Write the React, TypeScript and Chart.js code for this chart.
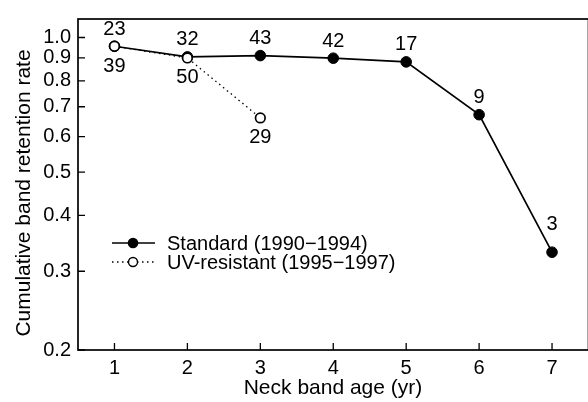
import { useEffect, useRef } from "react";
import { Chart, registerables } from "chart.js";

Chart.register(...registerables);

const ages = [1, 2, 3, 4, 5, 6, 7];
const standardRates = [0.956, 0.905, 0.911, 0.899, 0.882, 0.672, 0.331];
const standardCounts = ["23", "32", "43", "42", "17", "9", "3"];
const uvAges = [1, 2, 3];
const uvRates = [0.956, 0.9, 0.661];
const uvCounts = ["39", "50", "29"];
const yTicks = [0.2, 0.3, 0.4, 0.5, 0.6, 0.7, 0.8, 0.9, 1.0];
const yTickLabels = ["0.2", "0.3", "0.4", "0.5", "0.6", "0.7", "0.8", "0.9", "1.0"];
const xTicks = [1, 2, 3, 4, 5, 6, 7];
const seriesNames = ["Standard (1990\u22121994)", "UV-resistant (1995\u22121997)"];
const xTitle = "Neck band age (yr)";
const yTitle = "Cumulative band retention rate";

const FONT = '"Liberation Sans", Arial, Helvetica, sans-serif';

const decor = {
  id: "decor",
  afterDatasetsDraw(chart: any) {
    const ctx = chart.ctx;
    const xs = chart.scales.x;
    const ys = chart.scales.y;
    ctx.save();
    ctx.fillStyle = "#000";
    ctx.font = `20px ${FONT}`;
    ctx.textAlign = "center";
    ctx.textBaseline = "middle";
    standardCounts.forEach((t, i) => {
      const px = xs.getPixelForValue(ages[i]);
      const py = ys.getPixelForValue(standardRates[i]);
      const off = i === standardCounts.length - 1 ? 28 : 17;
      ctx.fillText(t, px, py - off);
    });
    uvCounts.forEach((t, i) => {
      const px = xs.getPixelForValue(uvAges[i]);
      const py = ys.getPixelForValue(uvRates[i]);
      ctx.fillText(t, px, py + 20);
    });
    ctx.restore();
  },
  afterDraw(chart: any) {
    const ctx = chart.ctx;
    const a = chart.chartArea;
    const xs = chart.scales.x;
    const ys = chart.scales.y;
    ctx.save();
    ctx.strokeStyle = "#000";
    ctx.lineWidth = 1.7;
    ctx.strokeRect(a.left, a.top, a.right - a.left, a.bottom - a.top);
    ctx.lineWidth = 1.3;
    ctx.beginPath();
    xTicks.forEach((v) => {
      const px = xs.getPixelForValue(v);
      ctx.moveTo(px, a.bottom);
      ctx.lineTo(px, a.bottom - 7);
    });
    yTicks.forEach((v) => {
      const py = ys.getPixelForValue(v);
      ctx.moveTo(a.left, py);
      ctx.lineTo(a.left + 7, py);
    });
    ctx.stroke();

    // legend
    const rows = [243, 262];
    const x0 = 112;
    const x1 = 155;
    const xm = 133;
    ctx.lineWidth = 1.6;
    ctx.setLineDash([]);
    ctx.beginPath();
    ctx.moveTo(x0, rows[0]);
    ctx.lineTo(x1, rows[0]);
    ctx.stroke();
    ctx.beginPath();
    ctx.arc(xm, rows[0], 5.3, 0, Math.PI * 2);
    ctx.fillStyle = "#000";
    ctx.fill();
    ctx.setLineDash([1.5, 3.5]);
    ctx.lineWidth = 1.3;
    ctx.beginPath();
    ctx.moveTo(x0, rows[1]);
    ctx.lineTo(x1, rows[1]);
    ctx.stroke();
    ctx.setLineDash([]);
    ctx.beginPath();
    ctx.arc(xm, rows[1], 4.5, 0, Math.PI * 2);
    ctx.fillStyle = "#fff";
    ctx.fill();
    ctx.lineWidth = 1.4;
    ctx.stroke();

    ctx.fillStyle = "#000";
    ctx.font = `20px ${FONT}`;
    ctx.textAlign = "left";
    ctx.textBaseline = "middle";
    ctx.fillText(seriesNames[0], 167, rows[0] + 1);
    ctx.fillText(seriesNames[1], 167, rows[1] + 1);

    // titles
    ctx.font = `21px ${FONT}`;
    ctx.textAlign = "center";
    ctx.fillText(xTitle, (a.left + 588) / 2, 388);
    ctx.translate(24, 193);
    ctx.rotate(-Math.PI / 2);
    ctx.fillText(yTitle, 0, 0);
    ctx.restore();
  },
};

export default function App() {
  const ref = useRef<HTMLCanvasElement | null>(null);
  useEffect(() => {
    if (!ref.current) return;
    const chart = new Chart(ref.current, {
      type: "line",
      data: {
        datasets: [
          {
            label: seriesNames[1],
            data: uvAges.map((x, i) => ({ x, y: uvRates[i] })),
            borderColor: "#000",
            borderWidth: 1.3,
            borderDash: [1.5, 3.5],
            pointRadius: 4.8,
            pointBorderWidth: 1.7,
            pointBackgroundColor: "#fff",
            pointBorderColor: "#000",
            fill: false,
            tension: 0,
            order: 0,
          },
          {
            label: seriesNames[0],
            data: ages.map((x, i) => ({ x, y: standardRates[i] })),
            borderColor: "#000",
            borderWidth: 1.7,
            pointRadius: 5.3,
            pointBorderWidth: 1,
            pointBackgroundColor: "#000",
            pointBorderColor: "#000",
            fill: false,
            tension: 0,
            order: 1,
          },
        ],
      },
      options: {
        animation: false,
        responsive: false,
        events: [],
        layout: { padding: { top: 8, right: 11.5, left: 0, bottom: 0 } },
        plugins: { legend: { display: false }, tooltip: { enabled: false } },
        scales: {
          x: {
            type: "linear",
            min: 0.5,
            max: 7.5,
            grid: { display: false, drawTicks: false },
            border: { display: false },
            afterBuildTicks: (s: any) => {
              s.ticks = xTicks.map((v) => ({ value: v }));
            },
            afterFit: (s: any) => {
              s.height = 52;
            },
            ticks: {
              padding: 6,
              color: "#000",
              font: { family: FONT, size: 20 },
              maxRotation: 0,
              callback: (v: any) => String(v),
            },
          },
          y: {
            type: "logarithmic",
            min: 0.2,
            max: 1.1,
            grid: { display: false, drawTicks: false },
            border: { display: false },
            afterBuildTicks: (s: any) => {
              s.ticks = yTicks.map((v) => ({ value: v }));
            },
            afterFit: (s: any) => {
              s.width = 78;
            },
            ticks: {
              padding: 7,
              color: "#000",
              font: { family: FONT, size: 20 },
              autoSkip: false,
              callback: (v: any) => {
                const i = yTicks.findIndex((t) => Math.abs(t - Number(v)) < 1e-9);
                return i >= 0 ? yTickLabels[i] : "";
              },
            },
          },
        },
      },
      plugins: [decor],
    });
    return () => chart.destroy();
  }, []);
  return (
    <div style={{ position: "fixed", left: 0, top: 0, width: 588, height: 402, overflow: "hidden", background: "#fff" }}>
      <canvas ref={ref} width={600} height={402} style={{ display: "block" }} />
    </div>
  );
}
